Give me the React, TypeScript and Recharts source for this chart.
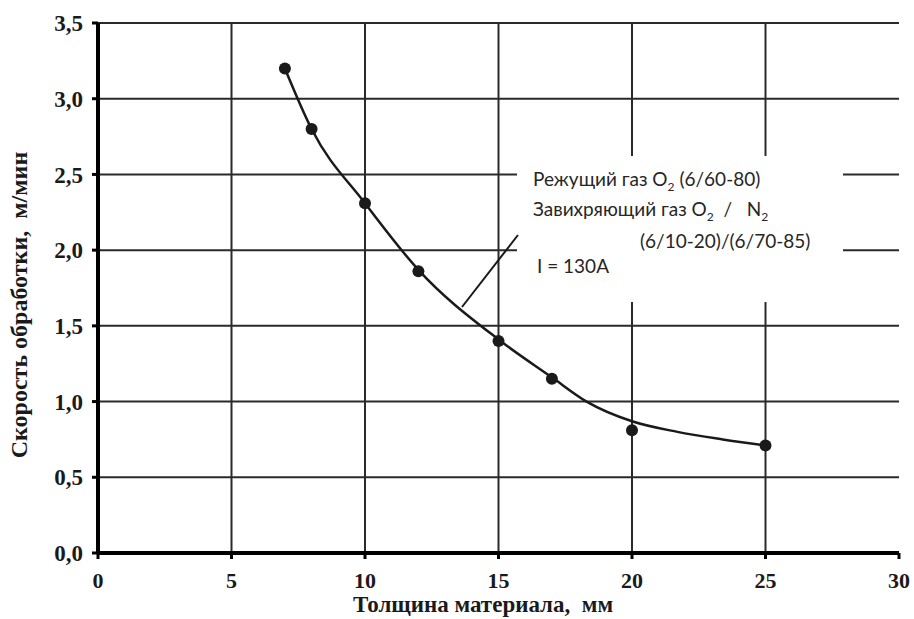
import { ComposedChart, Line, Scatter, XAxis, YAxis, ReferenceLine } from 'recharts';

// measured points
const thickness = [7, 8, 10, 12, 15, 17, 20, 25];
const speed = [3.2, 2.8, 2.31, 1.86, 1.4, 1.15, 0.81, 0.71];

// smoothed trend curve as drawn in the figure
const curveX = [7, 8, 10, 12, 15, 17, 18.3, 20, 21.7, 23.4, 25];
const curveY = [3.2, 2.8, 2.31, 1.87, 1.41, 1.16, 1.0, 0.87, 0.8, 0.75, 0.71];

const xTicks = [0, 5, 10, 15, 20, 25, 30];
const yTicks = [0, 0.5, 1, 1.5, 2, 2.5, 3, 3.5];
const xGrid = [5, 10, 15, 20, 25];
const yGrid = [0.5, 1, 1.5, 2, 2.5, 3, 3.5];

const points = thickness.map((x, i) => ({ x, y: speed[i] }));
const curve = curveX.map((x, i) => ({ x, y: curveY[i] }));

const serif = '"Liberation Serif", "Times New Roman", serif';
const sans = 'Lato, "Open Sans", sans-serif';
const ink = '#1a1a1a';

const fmt = (v: number) => v.toFixed(1).replace('.', ',');

const Dot = (props: any) => <circle cx={props.cx} cy={props.cy} r={6} fill={ink} />;

export default function App() {
  return (
    <div style={{ position: 'absolute', left: 0, top: 0, width: 914, height: 619, background: '#fff' }}>
      <ComposedChart width={914} height={619} margin={{ top: 23, right: 15, bottom: 26, left: 38 }}>
        <XAxis
          type="number"
          dataKey="x"
          domain={[0, 30]}
          ticks={xTicks}
          interval={0}
          height={40}
          axisLine={{ stroke: '#000', strokeWidth: 3.5 }}
          tickLine={{ stroke: '#000', strokeWidth: 3 }}
          tickSize={6}
          tickMargin={13}
          tick={{ fill: ink, fontFamily: serif, fontWeight: 700, fontSize: 22 }}
          allowDataOverflow
        />
        <YAxis
          type="number"
          dataKey="y"
          domain={[0, 3.5]}
          ticks={yTicks}
          interval={0}
          width={60}
          axisLine={{ stroke: '#000', strokeWidth: 3.5 }}
          tickLine={{ stroke: '#000', strokeWidth: 3 }}
          tickSize={6}
          tickMargin={9}
          tickFormatter={fmt}
          tick={{ fill: ink, fontFamily: serif, fontWeight: 700, fontSize: 23 }}
          allowDataOverflow
        />
        {xGrid.map((v) => (
          <ReferenceLine key={'gx' + v} x={v} stroke="#2a2a2a" strokeWidth={2} />
        ))}
        {yGrid.map((v) => (
          <ReferenceLine key={'gy' + v} y={v} stroke="#2a2a2a" strokeWidth={2} />
        ))}
        <ReferenceLine x={0} stroke="#000" strokeWidth={4} />
        <ReferenceLine y={0} stroke="#000" strokeWidth={4} />
        <Line
          data={curve}
          dataKey="y"
          type="monotone"
          stroke={ink}
          strokeWidth={2.5}
          dot={false}
          activeDot={false}
          isAnimationActive={false}
        />
        <Scatter data={points} dataKey="y" shape={Dot} isAnimationActive={false} />
      </ComposedChart>

      <svg width={914} height={619} style={{ position: 'absolute', left: 0, top: 0, pointerEvents: 'none' }}>
        <rect x={517} y={156} width={326} height={146} fill="#fff" />
        <line x1={462} y1={307} x2={518} y2={235} stroke={ink} strokeWidth={2} />
        <g fill="#262626" fontFamily={sans} fontSize={19}>
          <text x={533} y={186}>
            Режущий газ O<tspan dy={5} fontSize={12}>2</tspan>
            <tspan dy={-5}> (6/60-80)</tspan>
          </text>
          <text x={533} y={216} style={{ whiteSpace: 'pre' }}>
            Завихряющий газ O<tspan dy={5} fontSize={12}>2</tspan>
            <tspan dy={-5}>  /   N</tspan>
            <tspan dy={5} fontSize={12}>2</tspan>
          </text>
          <text x={640} y={248}>(6/10-20)/(6/70-85)</text>
          <text x={537} y={273}>I = 130A</text>
        </g>
        <text
          x={483}
          y={612}
          textAnchor="middle"
          fontFamily={serif}
          fontWeight={700}
          fontSize={23}
          fill={ink}
          style={{ whiteSpace: 'pre' }}
        >
          Толщина материала,  мм
        </text>
        <text
          x={0}
          y={0}
          transform="translate(27 305) rotate(-90)"
          textAnchor="middle"
          fontFamily={serif}
          fontWeight={700}
          fontSize={24}
          fill={ink}
          style={{ whiteSpace: 'pre' }}
        >
          Скорость обработки,  м/мин
        </text>
      </svg>
    </div>
  );
}
